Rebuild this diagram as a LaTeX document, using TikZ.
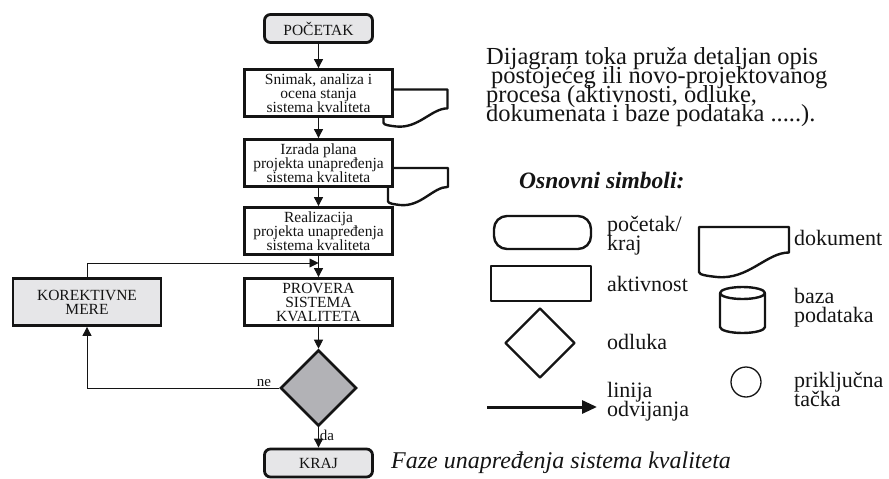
\documentclass[tikz,border=0pt]{standalone}
\usepackage{fontspec}
\setmainfont{Liberation Serif}
\usetikzlibrary{shapes.geometric,arrows.meta}
\definecolor{ink}{RGB}{20,20,20}
\definecolor{lgray}{RGB}{230,230,232}
\definecolor{dgray}{RGB}{178,178,182}
\newcommand\mytightls{\lineskiplimit=-30pt\relax\lineskip=0pt\relax}
\tikzset{
  box/.style={draw=ink, line width=2.8pt, fill=white, minimum width=148pt, minimum height=47pt,
    inner sep=0pt, align=center, text=ink, font=\fontsize{15.5}{14}\selectfont\mytightls},
  term/.style={box, fill=lgray, rounded corners=6pt, minimum width=108pt, minimum height=28pt},
  dec/.style={diamond, draw=ink, line width=2.6pt, fill=dgray, minimum width=76pt, minimum height=76pt,
    inner sep=0pt, aspect=1},
  flow/.style={draw=ink, line width=0.9pt, -{Triangle[length=9pt,width=9pt]}},
  lbl/.style={text=ink, font=\fontsize{15}{15}\selectfont, inner sep=1pt},
  leg/.style={draw=ink, line width=2.4pt, line join=round},
  legtxt/.style={text=ink, font=\fontsize{22}{19}\selectfont\mytightls, align=left,
    inner sep=0pt, anchor=west},
  docshape/.pic={\path[pic actions] (0,0) -- (1,0) -- (1,0.51)
      .. controls (0.75,0.51) and (0.55,1.06) .. (0.2,1.0)
      .. controls (0.1,0.98) and (0,0.96) .. (0,0.9) -- cycle;},
  docstyle/.style={draw=ink, fill=white, line width=2.4pt, line join=round}
}
\begin{document}
\begin{tikzpicture}[x=1pt,y=-1pt]
\useasboundingbox (0,0) rectangle (889,479);

% documents behind the activity boxes
\pic[docstyle, xscale=64, yscale=37] at (383.5,89.5) {docshape};
\pic[docstyle, xscale=60, yscale=37] at (388,168) {docshape};

% flowchart
\node[term] (start) at (318.5,28.5) {POČETAK};
\node[box] (b1) at (318.5,93) {Snimak, analiza i\\ocena stanja\\sistema kvaliteta};
\node[box] (b2) at (318.5,163) {Izrada plana\\projekta unapređenja\\sistema kvaliteta};
\node[box] (b3) at (318.5,231) {Realizacija\\projekta unapređenja\\sistema kvaliteta};
\node[box] (prov) at (318.5,302) {PROVERA\\SISTEMA\\KVALITETA};
\node[box, fill=lgray] (kor) at (87,302) {KOREKTIVNE\\MERE};
\node[dec] (dia) at (318.5,388) {};
\node[term] (kraj) at (318.5,463) {KRAJ};
\coordinate (j) at (318.5,263);

\draw[flow] (start) -- (b1);
\draw[flow] (b1) -- (b2);
\draw[flow] (b2) -- (b3);
\draw[flow] (b3) -- (prov);
\draw[flow] (prov) -- (dia);
\draw[flow] (dia) -- node[lbl, right, pos=0.4] {da} (kraj);
\draw[flow] (dia.west) -| node[lbl, above, pos=0.04] {ne} (kor.south);
\draw[flow] (kor.north) |- (j);

% description
\node[anchor=north west, inner sep=0pt, align=left, text=ink,
  font=\fontsize{24.5}{19}\selectfont\mytightls] (desc) at (486,47)
  {Dijagram toka pruža detaljan opis\\\hspace*{5pt}postojećeg ili novo-projektovanog\\procesa (aktivnosti, odluke,\\dokumenata i baze podataka .....).};
\node[anchor=base west, inner sep=0pt, text=ink, font=\fontsize{23.5}{24}\selectfont\bfseries\itshape]
  (osn) at (519,188) {Osnovni simboli:};

% legend
\node[leg, rounded corners=13pt, minimum width=97pt, minimum height=33pt] (lterm) at (542.5,232.5) {};
\node[leg, minimum width=100pt, minimum height=35pt] (lact) at (541,283.5) {};
\node[leg, diamond, aspect=1, minimum width=70pt, minimum height=70pt, inner sep=0pt] (ldec) at (540,343) {};
\coordinate (la1) at (487,407);
\coordinate (la2) at (597,407);
\draw[line width=3pt, ink, -{Triangle[length=15pt,width=13pt]}] (la1) -- (la2);
\pic[docstyle, xscale=90, yscale=50] at (699,227) {docshape};
\draw[leg] (720,293) -- (720,327) arc(180:360:22.5pt and 6pt) -- (765,293);
\draw[leg] (742.5,293) ellipse (22.5pt and 6pt);
\node[draw=ink, line width=1.3pt, circle, minimum size=30pt, inner sep=0pt] (lcirc) at (746,382) {};

\node[legtxt] (t1) at (607,236) {početak/\\kraj};
\node[legtxt] (t2) at (607,284) {aktivnost};
\node[legtxt] (t3) at (607,342) {odluka};
\node[legtxt] (t4) at (607,402) {linija\\odvijanja};
\node[legtxt] (t5) at (794,238) {dokument};
\node[legtxt] (t6) at (794,308) {baza\\podataka};
\node[legtxt] (t7) at (794,389) {priključna\\tačka};

\node[anchor=base west, inner sep=0pt, text=ink, font=\fontsize{24}{24}\selectfont\itshape]
  (cap) at (391,468) {Faze unapređenja sistema kvaliteta};
\end{tikzpicture}
\end{document}
